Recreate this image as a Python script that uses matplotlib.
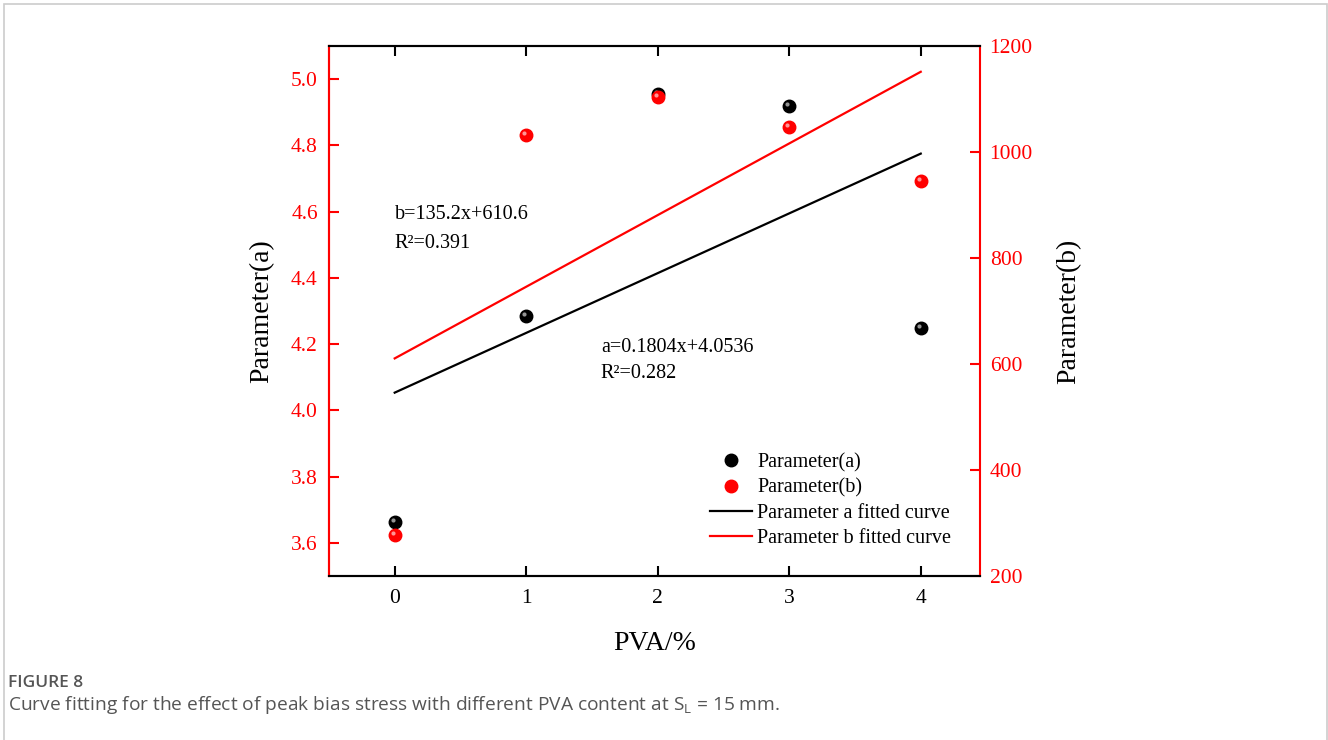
import numpy as np
import matplotlib.pyplot as plt
import matplotlib.transforms as mtransforms
from matplotlib.patches import Rectangle
from matplotlib.lines import Line2D

# Data
pva = [0, 1, 2, 3, 4]
param_a = [3.663, 4.285, 4.955, 4.918, 4.249]
param_b = [277, 1032, 1104, 1047, 945]

# Linear fits as printed on the chart
fit_a = (0.1804, 4.0536)
fit_b = (135.2, 610.6)
fit_a_text = ["a=0.1804x+4.0536", "R\u00b2=0.282"]
fit_b_text = ["b=135.2x+610.6", "R\u00b2=0.391"]

plt.rcParams['font.family'] = 'Liberation Serif'
plt.rcParams['mathtext.fontset'] = 'custom'
plt.rcParams['mathtext.rm'] = 'Open Sans'

fig = plt.figure(figsize=(13.28, 7.4), dpi=100)
ax = fig.add_axes([0.2477, 0.2216, 0.4902, 0.7162])
ax2 = ax.twinx()

xf = np.array([pva[0], pva[-1]])


def sphere(axis, x, y, color, hl):
    # glossy ball: base dot plus a small highlight shifted up-left
    axis.plot(x, y, 'o', color=color, markersize=9, mec=color, zorder=3)
    off = mtransforms.offset_copy(axis.transData, fig=fig, x=-1.5, y=1.5, units='points')
    axis.plot(x, y, 'o', color=hl, markersize=3, mec='none', alpha=0.8,
              transform=off, zorder=4)


ax.plot(xf, fit_a[0] * xf + fit_a[1], color='black', lw=1.6, zorder=2)
sphere(ax, pva, param_a, 'black', '#bbbbbb')
ax2.plot(xf, fit_b[0] * xf + fit_b[1], color='red', lw=1.6, zorder=2)
sphere(ax2, pva, param_b, 'red', '#ffbbbb')

ax.set_xlim(-0.5, 4.45)
ax.set_ylim(3.5, 5.1)
ax2.set_ylim(200, 1200)
ax.set_xticks(pva)
ax.set_yticks([3.6, 3.8, 4.0, 4.2, 4.4, 4.6, 4.8, 5.0])
ax2.set_yticks([200, 400, 600, 800, 1000, 1200])

for a in (ax, ax2):
    for s in a.spines.values():
        s.set_linewidth(1.5)
ax.spines['left'].set_color('red')
ax2.spines['left'].set_color('red')
ax2.spines['right'].set_color('red')
ax.spines['right'].set_visible(False)

ax.tick_params(axis='x', direction='in', length=7, width=1.5, top=True,
               labelsize=15.5, pad=9)
ax.tick_params(axis='y', direction='in', length=7, width=1.5, color='red',
               labelcolor='red', labelsize=15.5, pad=8)
ax2.tick_params(axis='y', direction='in', length=7, width=1.5, color='red',
                labelcolor='red', labelsize=15.5, pad=7)

ax.set_xlabel('PVA/%', fontsize=20, labelpad=17)
ax.set_ylabel('Parameter(a)', fontsize=20, labelpad=12)
ax2.set_ylabel('Parameter(b)', fontsize=20, labelpad=17)

ax.text(0, 4.59, fit_b_text[0], fontsize=14.5, va='center')
ax.text(0, 4.505, fit_b_text[1], fontsize=14.5, va='center')
ax.text(1.567, 4.19, fit_a_text[0], fontsize=14.5, va='center')
ax.text(1.567, 4.11, fit_a_text[1], fontsize=14.5, va='center')

handles = [
    Line2D([], [], ls='none', marker='o', color='black', markersize=9),
    Line2D([], [], ls='none', marker='o', color='red', markersize=9),
    Line2D([], [], color='black', lw=1.6),
    Line2D([], [], color='red', lw=1.6),
]
labels = ['Parameter(a)', 'Parameter(b)', 'Parameter a fitted curve',
          'Parameter b fitted curve']
ax2.legend(handles, labels, loc='upper left', bbox_to_anchor=(0.585, 0.232),
           frameon=False, fontsize=14.5, borderpad=0, borderaxespad=0,
           handlelength=2.1, handletextpad=0.25, labelspacing=0.3)

# caption and page frame
fig.text(8 / 1328, 1 - 683 / 740, 'FIGURE 8', family='Open Sans', fontsize=12.5,
         color='#555555', va='center', fontweight='semibold', stretch='condensed')
fig.text(8 / 1328, 1 - 705 / 740,
         r'Curve fitting for the effect of peak bias stress with different PVA content at S$_{\rm L}$ = 15 mm.',
         family='Open Sans', fontsize=13.8, color='#555555', va='center')
fig.patches.append(Rectangle((4 / 1328, -0.01), 1323 / 1328, 1 - 4 / 740 + 0.01,
                             transform=fig.transFigure, fill=False,
                             edgecolor='#cccccc', lw=1.2))

fig.savefig('out.png', dpi=100)
